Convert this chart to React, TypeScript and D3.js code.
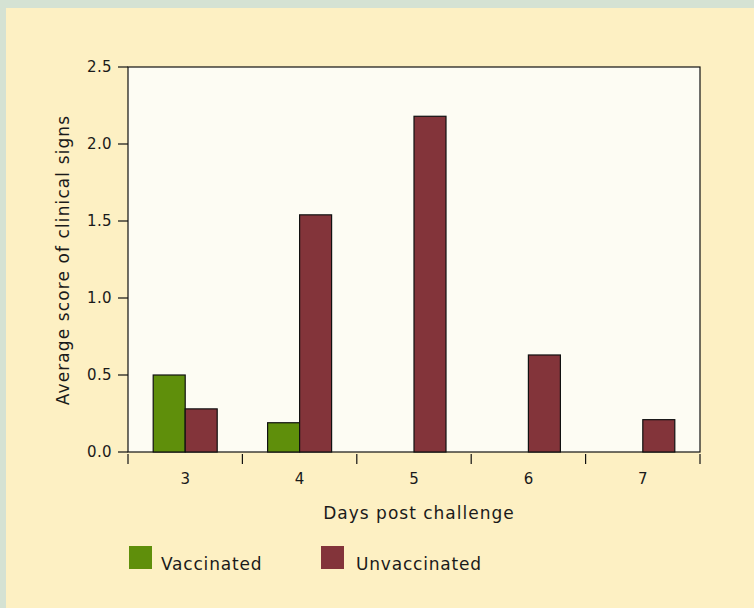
import React from "react";
import * as d3 from "d3";

const days = ["3", "4", "5", "6", "7"];
const seriesNames = ["Vaccinated", "Unvaccinated"];
const vaccinated = [0.5, 0.19, 0, 0, 0];
const unvaccinated = [0.28, 1.54, 2.18, 0.63, 0.21];
const yTicks = [0, 0.5, 1.0, 1.5, 2.0, 2.5];
const colors = ["#5f8f0b", "#83343a"];

const W = 754;
const H = 608;
const left = 128;
const right = 700;
const top = 67;
const bottom = 452;
const font = "'DejaVu Sans', sans-serif";

export default function App() {
  const x0 = d3.scaleBand<string>().domain(days).range([left, right]).padding(0);
  const bw = x0.bandwidth();
  const x1 = d3
    .scaleBand<string>()
    .domain(seriesNames)
    .range([bw / 2 - 32, bw / 2 + 32])
    .padding(0);
  const y = d3.scaleLinear().domain([0, 2.5]).range([bottom, top]);
  const series = [vaccinated, unvaccinated];
  const xTickPos = [...days.map((d) => x0(d) as number), right];

  return (
    <svg
      width={W}
      height={H}
      style={{ position: "absolute", left: 0, top: 0, display: "block" }}
    >
      <rect x={0} y={0} width={W} height={H} fill="#d5e2d3" />
      <rect x={6} y={8} width={W - 6} height={H - 8} fill="#fdf0c3" />
      <rect x={left} y={top} width={right - left} height={bottom - top} fill="#fdfcf3" stroke="#111" strokeWidth={1.2} />
      {series.map((vals, si) =>
        vals.map((v, i) =>
          v > 0 ? (
            <rect
              key={`${si}-${i}`}
              x={(x0(days[i]) as number) + (x1(seriesNames[si]) as number)}
              y={y(v)}
              width={x1.bandwidth()}
              height={bottom - y(v)}
              fill={colors[si]}
              stroke="#111"
              strokeWidth={1.2}
            />
          ) : null
        )
      )}
      {yTicks.map((t) => (
        <g key={t}>
          <line x1={118} x2={left} y1={y(t)} y2={y(t)} stroke="#111" strokeWidth={1.2} />
          <text
            x={112}
            y={y(t)}
            dy="0.36em"
            textAnchor="end"
            fontFamily={font}
            fontSize={15}
            letterSpacing={0.4}
            fill="#1a1a1a"
          >
            {t.toFixed(1)}
          </text>
        </g>
      ))}
      {xTickPos.map((p, i) => (
        <line key={i} x1={p} x2={p} y1={bottom + 2} y2={bottom + 12} stroke="#111" strokeWidth={1.2} />
      ))}
      {days.map((d) => (
        <text
          key={d}
          x={(x0(d) as number) + bw / 2}
          y={484}
          textAnchor="middle"
          fontFamily={font}
          fontSize={15}
          fill="#1a1a1a"
        >
          {d}
        </text>
      ))}
      <text
        x={419}
        y={519}
        textAnchor="middle"
        fontFamily={font}
        fontSize={17}
        letterSpacing={1}
        fill="#1a1a1a"
      >
        Days post challenge
      </text>
      <text
        transform={`translate(69, 260) rotate(-90)`}
        textAnchor="middle"
        fontFamily={font}
        fontSize={17}
        letterSpacing={1.1}
        fill="#1a1a1a"
      >
        Average score of clinical signs
      </text>
      {seriesNames.map((n, i) => (
        <g key={n} transform={`translate(${i === 0 ? 129 : 321}, 546)`}>
          <rect x={0} y={0} width={23} height={23} fill={colors[i]} />
          <text x={i === 0 ? 32 : 35} y={24} fontFamily={font} fontSize={17} letterSpacing={0.8} fill="#1a1a1a">
            {n}
          </text>
        </g>
      ))}
    </svg>
  );
}
